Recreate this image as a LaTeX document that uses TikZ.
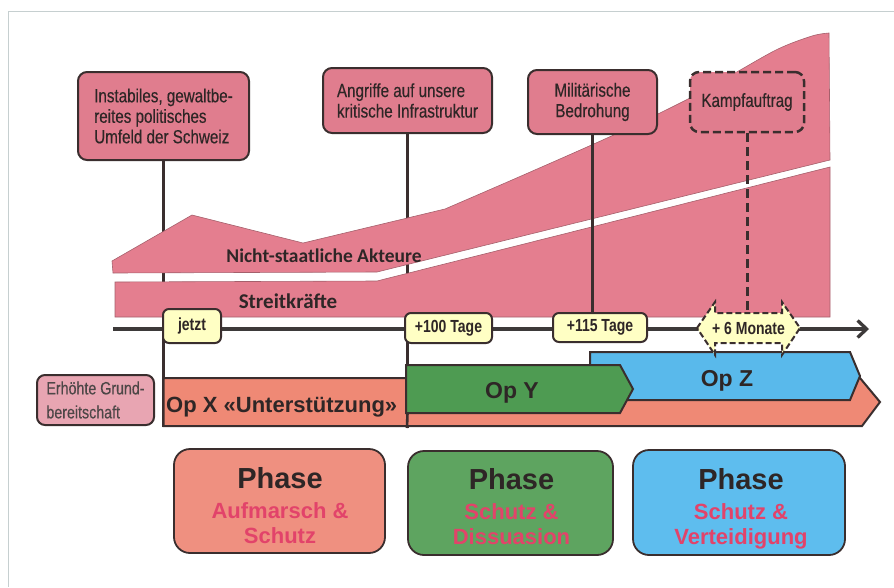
\documentclass[tikz,border=0pt]{standalone}
\usepackage{fontspec}
\setmainfont{Liberation Sans}
\newfontfamily\narrowfont[FakeStretch=0.8, FakeBold=0.3]{Liberation Sans}
\newfontfamily\narrowbold[FakeStretch=0.8]{Liberation Sans Bold}
\newfontfamily\calfont{Carlito}
\usetikzlibrary{arrows.meta}
\definecolor{linec}{HTML}{3A2E2E}
\definecolor{textc}{HTML}{2E2626}
\definecolor{framec}{HTML}{C6CFD0}
\definecolor{zonepink}{HTML}{E47E8F}
\definecolor{zoneedge}{HTML}{A5606C}
\definecolor{boxpink}{HTML}{E07D8E}
\definecolor{grundpink}{HTML}{E8A5B2}
\definecolor{salmon}{HTML}{EF8975}
\definecolor{salmonph}{HTML}{EF9080}
\definecolor{opgreen}{HTML}{4E9B52}
\definecolor{greenph}{HTML}{5EA460}
\definecolor{opblue}{HTML}{59B9EB}
\definecolor{blueph}{HTML}{5EBDEE}
\definecolor{labyellow}{HTML}{FFFFC4}
\definecolor{subred}{HTML}{E2436A}
\definecolor{axisc}{HTML}{3D3A3A}
\newcommand\evfont{\narrowfont\fontsize{19}{20.5}\selectfont}
\newcommand\tlfont{\narrowbold\fontsize{17.5}{18}\selectfont}
\newcommand\grfont{\narrowfont\fontsize{17.8}{24}\selectfont}
\newcommand\opfont{\bfseries\fontsize{23}{26}\selectfont}
\newcommand\phfont{\bfseries\fontsize{29}{32}\selectfont}
\newcommand\phsubfont{\bfseries\fontsize{22}{25}\selectfont}
\newcommand\shlabfont{\calfont\bfseries\fontsize{19.5}{22}\selectfont}
\pgfdeclarelayer{back}
\pgfsetlayers{back,main}
\begin{document}
\begin{tikzpicture}[x=1pt,y=-1pt,
  zoneshape/.style={fill=zonepink, draw=zoneedge, line width=0.6pt},
  shlab/.style={font=\shlabfont, text=textc, inner sep=0pt},
  evbox/.style={draw=linec, line width=2pt, fill=boxpink, rounded corners=9pt, text=textc, inner sep=0pt, font=\evfont},
  vline/.style={draw=linec, line width=2.6pt},
  dline/.style={draw=linec, line width=3pt, dash pattern=on 9pt off 5pt},
  timeaxis/.style={draw=axisc, line width=3.3pt, -{Straight Barb[length=9pt,width=17pt]}},
  tlabel/.style={draw=linec, line width=2pt, fill=labyellow, rounded corners=6pt, text=textc, inner sep=0pt, font=\tlfont},
  opshape/.style={draw=linec, line width=2pt, line join=miter},
  oplab/.style={font=\opfont, text=textc, inner sep=0pt},
  phbox/.style={draw=linec, line width=1.8pt, rounded corners=16pt, minimum height=104pt},
  phtitle/.style={font=\phfont, text=textc, inner sep=0pt, anchor=base},
  phsub/.style={font=\phsubfont, text=subred, inner sep=0pt, anchor=base}]
\useasboundingbox (0,0) rectangle (894,587);
\draw[framec, line width=0.8pt] (894,11.5) -- (8.5,11.5) -- (8.5,587);

% upper zone: non-state actors
\filldraw[zoneshape] (113,273) -- (112,261) -- (192,215) -- (303,243) -- (445,209)
  -- plot[smooth, tension=0.55] coordinates {(445,209) (528,173) (618,133) (690,98) (735,73) (778,49) (812,36) (829,33)}
  -- (830,160) -- (377,272) -- cycle;
\node[shlab, anchor=base] (nsa) at (324,262) {Nicht-staatliche Akteure};
% lower zone: armed forces
\filldraw[zoneshape] (115,282) -- (377,281) -- (830,167) -- (830,317) -- (115,317) -- cycle;
\node[shlab, anchor=base, font=\calfont\bfseries\fontsize{21}{24}\selectfont] (sk) at (288,308) {Streitkräfte};

% event boxes
\node[evbox, minimum width=171pt, minimum height=88pt, align=left] (b1) at (163.5,116) {Instabiles, gewaltbe-\\reites politisches\\Umfeld der Schweiz};
\node[evbox, minimum width=169pt, minimum height=65pt, align=left] (b2) at (407.5,100.5) {Angriffe auf unsere\\kritische Infrastruktur};
\node[evbox, minimum width=129pt, minimum height=64pt, align=center] (b3) at (592.5,102) {Militärische\\Bedrohung};
\node[evbox, dash pattern=on 8pt off 4pt, line width=2.5pt, minimum width=114pt, minimum height=60pt] (b4) at (747,102) {Kampfauftrag};

% time axis
\coordinate (axL) at (113,329);
\coordinate (axR) at (869,329);
\draw[timeaxis] (axL) -- (axR);
\node[tlabel, minimum width=58pt, minimum height=34pt] (jetzt) at (192,326) {jetzt};
\node[tlabel, minimum width=87pt, minimum height=30pt] (t100) at (448.5,328) {+100 Tage};
\node[tlabel, minimum width=94pt, minimum height=29pt] (t115) at (600,327.5) {+115 Tage};

\draw[vline] (b3.south) -- (b3.south |- t115.north);

% bottom ends of the phase lines
\coordinate (x1) at (163.5,427);
\coordinate (x2) at (407,428);
\coordinate (oyb) at (406,413);
\begin{pgfonlayer}{back}
\draw[vline] (b1.south) -- (x1);
\draw[vline] (b2.south) -- (b2.south |- x2);
\end{pgfonlayer}

% base readiness
\node[draw=linec, line width=2pt, fill=grundpink, rounded corners=8pt, minimum width=117pt, minimum height=50pt, inner sep=0pt, align=left, font=\grfont, text=textc!85!white] (grund) at (95.5,400) {Erhöhte Grund-\\bereitschaft};

% operations
\filldraw[opshape, fill=salmon] (163.5,378) -- (860,378) -- (880,402) -- (862,426) -- (163.5,426) -- cycle;
\node[oplab, anchor=base west, font=\bfseries\fontsize{22}{26}\selectfont] (lx) at (166,412) {Op X «Unterstützung»};
\filldraw[opshape, fill=opblue] (590,352) -- (850,352) -- (860,376) -- (850,400) -- (590,400) -- cycle;
\node[oplab, anchor=base] (lz) at (727,386) {Op Z};
\filldraw[opshape, fill=opgreen] (406,365) -- (620,365) -- (633,389) -- (620,413) -- (406,413) -- cycle;
\node[oplab, anchor=base] (ly) at (512,398) {Op Y};
\draw[vline] (b2.south |- oyb) -- (x2);

% +6 months double arrow
\filldraw[draw=linec, fill=labyellow, line width=2pt, dash pattern=on 6pt off 3pt]
  (697,328) -- (715,302) -- (715,313) -- (782,313) -- (782,302) -- (800,328)
  -- (782,355) -- (782,343) -- (715,343) -- (715,355) -- cycle;
\node[font=\tlfont, text=textc, inner sep=0pt, minimum width=67pt, minimum height=30pt] (t6) at (748.5,328) {+ 6 Monate};
\draw[dline] (b4.south) -- (b4.south |- t6.north);

% phases
\node[phbox, fill=salmonph, minimum width=211pt] (phA) at (279.5,501) {};
\node[phtitle] (phAt) at (280,488) {Phase};
\node[phsub] (phA1) at (280,518) {Aufmarsch \&};
\node[phsub] (phA2) at (280,543) {Schutz};
\node[phbox, fill=greenph, minimum width=205pt] (phB) at (510.5,503) {};
\node[phtitle] (phBt) at (511.5,489) {Phase};
\node[phsub] (phB1) at (511.5,519) {Schutz \&};
\node[phsub] (phB2) at (511.5,544) {Dissuasion};
\node[phbox, fill=blueph, minimum width=212pt, minimum height=105pt] (phC) at (739,502.5) {};
\node[phtitle] (phCt) at (741,489) {Phase};
\node[phsub] (phC1) at (741,519) {Schutz \&};
\node[phsub] (phC2) at (741,544) {Verteidigung};
\end{tikzpicture}
\end{document}
